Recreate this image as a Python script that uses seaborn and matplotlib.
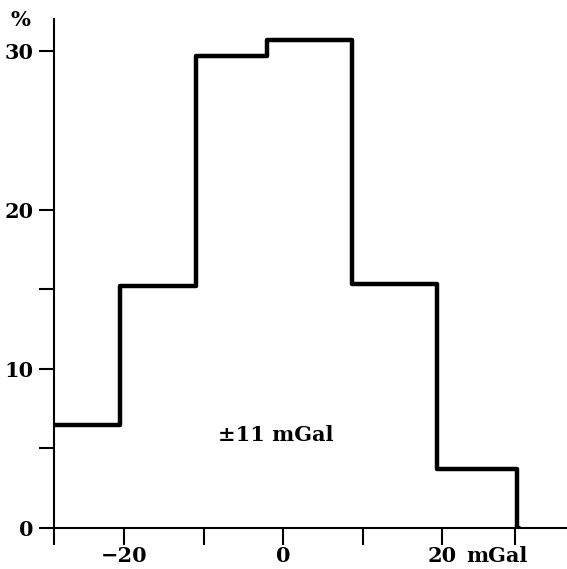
import matplotlib
matplotlib.use("Agg")
import matplotlib.pyplot as plt
import seaborn as sns
import pandas as pd

# bin edges (mGal) and share of values (%);
# the last, empty bin closes the outline down to zero
edges = [-28.9, -20.5, -11.0, -2.1, 8.7, 19.3, 29.4, 29.6]
percent = [6.5, 15.2, 29.7, 30.7, 15.35, 3.7, 0.0]
centers = [(a + b) / 2 for a, b in zip(edges[:-1], edges[1:])]
data = pd.DataFrame({"mgal": centers, "pct": percent})

sns.set_style("ticks")
plt.rcParams["font.family"] = ["DejaVu Serif"]
plt.rcParams["font.weight"] = "bold"
plt.rcParams["text.color"] = "black"

fig = plt.figure(figsize=(5.67, 5.69), dpi=100)
ax = fig.add_axes([53.5 / 567, 1 - 528 / 569, 1 - 53.5 / 567, (528 - 19) / 569])

sns.histplot(data=data, x="mgal", weights="pct", bins=edges,
             element="step", fill=False, color="black", linewidth=3.2, ax=ax)

ax.set_xlim(-28.9, 35.7)
ax.set_ylim(0, 32)

sns.despine(ax=ax)
for s in ["left", "bottom"]:
    ax.spines[s].set_linewidth(1.5)
    ax.spines[s].set_color("black")

ax.set_xticks([-20, 0, 20])
ax.set_xticklabels(["\u221220", "0", "20"])
ax.set_xticks([-28.9, -10, 10, 29.2], minor=True)
ax.set_yticks([0, 10, 20, 30])
ax.set_yticks([5, 15], minor=True)
ax.tick_params(axis="y", which="both", direction="out", length=11, width=1.5,
               color="black", labelcolor="black", labelsize=15, pad=3.5)
ax.tick_params(axis="x", which="both", direction="out", length=12, width=1.5,
               color="black", labelcolor="black", labelsize=15, pad=1)

ax.set_xlabel("")
ax.set_ylabel("")
# unit written after the "20" tick label
ax.annotate("mGal", xy=(20, 0), xycoords="data", xytext=(17.5, -13),
            textcoords="offset points", fontsize=15, fontweight="bold",
            ha="left", va="top", annotation_clip=False)
fig.text(20.5 / 567, 1 - 19.5 / 569, "%", fontsize=15, fontweight="bold",
         ha="center", va="center")
ax.text(-1.0, 5.85, "\u00b111 mGal", fontsize=15, fontweight="bold",
        ha="center", va="center")

fig.savefig("out.png", dpi=100, facecolor="white")
